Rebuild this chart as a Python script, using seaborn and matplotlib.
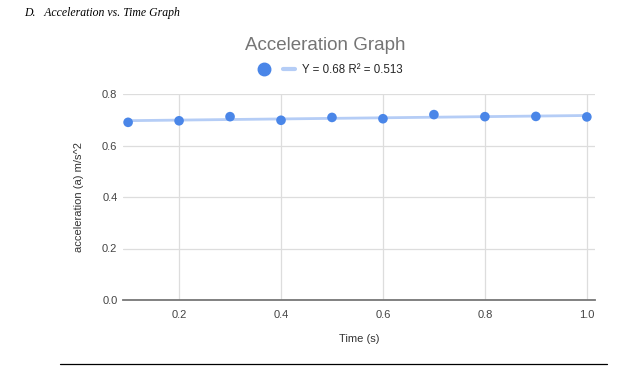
import numpy as np
import pandas as pd
import matplotlib
matplotlib.use("Agg")
import matplotlib.pyplot as plt
from matplotlib.lines import Line2D
import seaborn as sns

# values
time_s = [0.1, 0.2, 0.3, 0.4, 0.5, 0.6, 0.7, 0.8, 0.9, 1.0]
accel = [0.690, 0.696, 0.712, 0.698, 0.709, 0.704, 0.720, 0.712, 0.713, 0.711]
trend_label = "Y = 0.68 R\u00b2 = 0.513"
x_ticks = [0.2, 0.4, 0.6, 0.8, 1.0]
y_ticks = [0.0, 0.2, 0.4, 0.6, 0.8]

POINT_BLUE = "#4a86e8"
TREND_BLUE = "#b5cdf6"

sns.set_theme(style="white")
plt.rcParams['font.family'] = ['Liberation Sans', 'DejaVu Sans']

df = pd.DataFrame({'Time': time_s, 'Accel': accel})
slope, intercept = np.polyfit(df['Time'], df['Accel'], 1)
trend = pd.DataFrame({'Time': [0.1, 1.0]})
trend['Accel'] = intercept + slope * trend['Time']

W, H = 644, 370
fig = plt.figure(figsize=(W / 100, H / 100), dpi=100)
ax = fig.add_axes([123 / W, (H - 300) / H, (595 - 123) / W, (300 - 94) / H])

sns.lineplot(data=trend, x='Time', y='Accel', ax=ax, color=TREND_BLUE, linewidth=2.0, zorder=2)
sns.scatterplot(data=df, x='Time', y='Accel', ax=ax, color=POINT_BLUE, s=48,
                edgecolor='none', zorder=3)

ax.set_xlim(0.090, 1.016)
ax.set_ylim(0, 0.8)
ax.set_xticks(x_ticks)
ax.set_yticks(y_ticks)
ax.set_xticklabels([f"{v:.1f}" for v in x_ticks])
ax.set_yticklabels([f"{v:.1f}" for v in y_ticks])
ax.tick_params(axis='both', labelsize=8, colors='#444444', length=0)
ax.tick_params(axis='y', pad=4)
ax.tick_params(axis='x', pad=7)
ax.grid(True, color='#dddddd', linewidth=0.9)
ax.set_axisbelow(True)
for side in ['left', 'right', 'top']:
    ax.spines[side].set_visible(False)
ax.spines['bottom'].set_color('#777777')
ax.spines['bottom'].set_linewidth(1.3)
ax.spines['bottom'].set_zorder(4)

ax.set_xlabel("Time (s)", fontsize=8, color='#333333', labelpad=10)
ax.set_ylabel("acceleration (a) m/s^2", fontsize=8, color='#333333', labelpad=13)

fig.text(325 / W, 1 - 45 / H, "Acceleration Graph", ha='center', va='center',
         fontsize=13.5, color='#757575')

handles = [Line2D([], [], marker='o', color=POINT_BLUE, linestyle='none', markersize=9),
           Line2D([], [], color=TREND_BLUE, linewidth=3)]
fig.legend(handles, ["", trend_label], loc='center', bbox_to_anchor=(330 / W, 1 - 70 / H),
           ncol=2, frameon=False, fontsize=8.3, handlelength=1.0, columnspacing=0.6,
           handletextpad=0.6)

fig.text(24 / W, 1 - 13 / H, "D.   Acceleration vs. Time Graph", ha='left', va='center',
         fontsize=8.5, style='italic', family='Liberation Serif', color='black')

fig.add_artist(Line2D([60 / W, 607 / W], [1 - 364 / H, 1 - 364 / H], color='black', linewidth=0.9))

fig.savefig("out.png", dpi=100)
